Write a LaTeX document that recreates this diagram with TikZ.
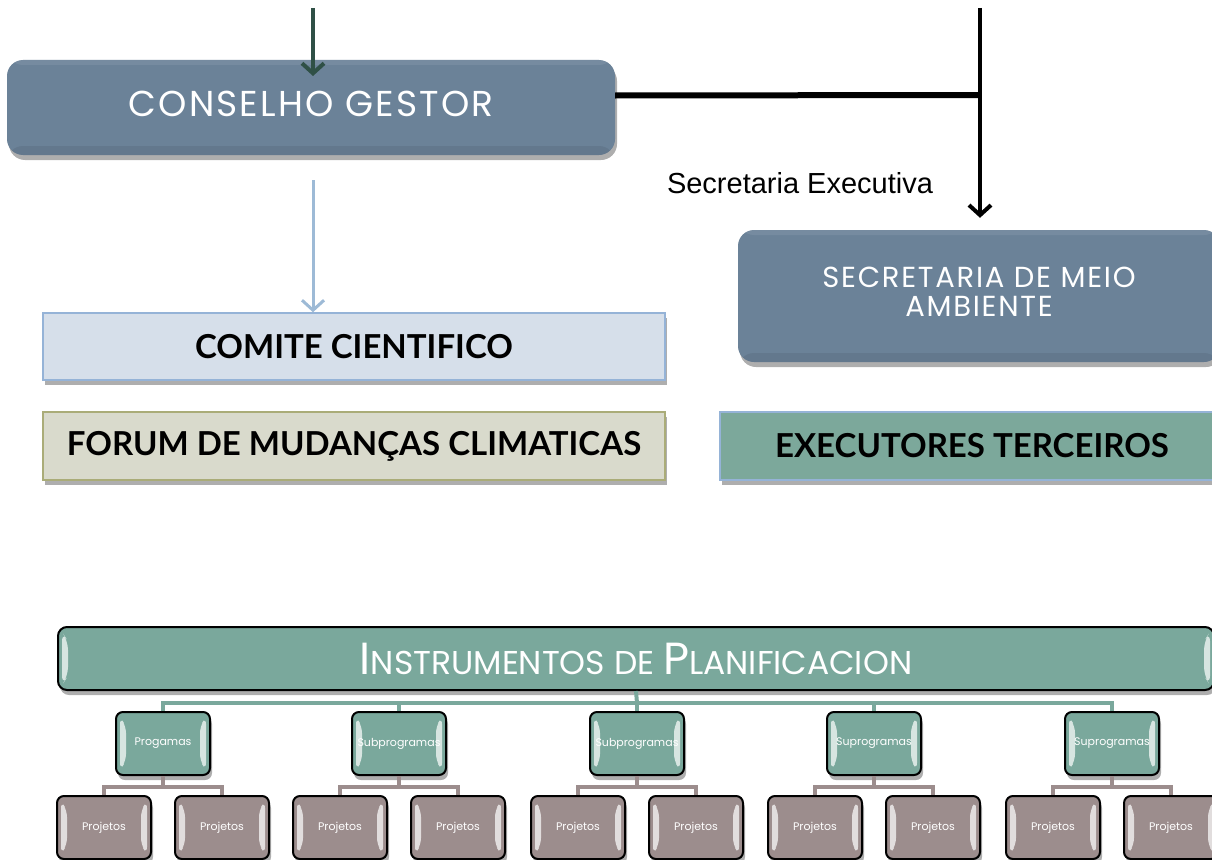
\documentclass[tikz,border=0pt]{standalone}
\usepackage{fontspec}
\setmainfont{Poppins}
\newfontfamily\widef[LetterSpace=6]{Poppins}
\newfontfamily\arialf{Liberation Sans}
\newfontfamily\boldf{Lato}
\usetikzlibrary{shadows,arrows.meta,calc}
\definecolor{slate}{RGB}{107,130,152}
\definecolor{darkgreen}{RGB}{47,80,70}
\definecolor{lightblue}{RGB}{157,186,214}
\definecolor{comitefill}{RGB}{214,223,234}
\definecolor{comiteline}{RGB}{149,179,215}
\definecolor{forumfill}{RGB}{217,218,204}
\definecolor{forumline}{RGB}{170,172,120}
\definecolor{execfill}{RGB}{124,168,155}
\definecolor{tealbox}{RGB}{122,168,156}
\definecolor{mauve}{RGB}{156,141,141}
\tikzset{
  shad/.style={drop shadow={shadow xshift=2pt, shadow yshift=-5pt, opacity=0.45, fill=black!70}},
  slatebox/.style={shad, fill=slate, rounded corners=16pt, text=white, align=center, inner sep=0pt},
  flatbox/.style={shad, draw, line width=1.5pt, inner sep=0pt, font=\boldf\bfseries\fontsize{33}{36}\selectfont},
  bevel/.style={path picture={
     \fill[white, opacity=0.7]
       ($(path picture bounding box.north west)+(4,5)$) --
       ($(path picture bounding box.north west)+(10,14)$) --
       ($(path picture bounding box.south west)+(10,-14)$) --
       ($(path picture bounding box.south west)+(4,-5)$) -- cycle;
     \fill[white, opacity=0.7]
       ($(path picture bounding box.north east)+(-4,5)$) --
       ($(path picture bounding box.north east)+(-10,14)$) --
       ($(path picture bounding box.south east)+(-10,-14)$) --
       ($(path picture bounding box.south east)+(-4,-5)$) -- cycle;
  }},
  slatebevel/.style={path picture={
     \fill[black, opacity=0.07]
       ($(path picture bounding box.south west)+(0,-9)$) rectangle (path picture bounding box.south east);
     \fill[white, opacity=0.08]
       (path picture bounding box.north west) rectangle ($(path picture bounding box.north east)+(0,5)$);
  }},
  hbox/.style={shad, bevel, draw=black, line width=2pt, rounded corners=7pt, inner sep=0pt,
     minimum width=94, minimum height=63, text=white, font=\fontsize{11}{13}\selectfont},
  subbox/.style={hbox, fill=tealbox},
  projbox/.style={hbox, fill=mauve},
  tealline/.style={draw=tealbox, line width=4pt},
  mauveline/.style={draw=mauve, line width=4pt},
}
\begin{document}
\begin{tikzpicture}[x=1pt,y=-1pt]
\useasboundingbox (0,0) rectangle (1212,859);

% upper part
\node[slatebox, slatebevel, minimum width=608, minimum height=95, font=\widef\fontsize{36}{40}\selectfont] (cg) at (311,107.5) {\raisebox{7pt}{CONSELHO GESTOR}};
\node[slatebox, slatebevel, minimum width=482, minimum height=132, font=\widef\fontsize{29}{31}\selectfont] (sma) at (979,296) {\raisebox{10pt}{\begin{tabular}{@{}c@{}}SECRETARIA DE MEIO\\[-2pt]AMBIENTE\end{tabular}}};
\node[flatbox, fill=comitefill, draw=comiteline, minimum width=622, minimum height=67] (cc) at (354,346.5) {COMITE CIENTIFICO};
\node[flatbox, fill=forumfill, draw=forumline, minimum width=622, minimum height=68] (fm) at (354,446) {FORUM DE MUDANÇAS CLIMATICAS};
\node[flatbox, fill=execfill, draw=comiteline, minimum width=504, minimum height=68] (et) at (972,446) {EXECUTORES TERCEIROS};

\node[font=\arialf\fontsize{29}{33}\selectfont] (se) at (800,183) {Secretaria Executiva};

\coordinate (topA) at (313,8);
\coordinate (cgin) at (313,76);
\draw[darkgreen, line width=4pt, -{Straight Barb[length=10pt,width=22pt]}] (topA) -- (cgin);

\coordinate (lbs) at (313,180);
\draw[lightblue, line width=3pt, -{Straight Barb[length=10pt,width=22pt]}] (lbs) -- (cc.north -| lbs);

\coordinate (jn) at (980,95);
\coordinate (topB) at (980,8);
\draw[black, line width=6pt] ($(cg.east)+(0,-12)$) -- (jn);
\draw[black, line width=4pt, -{Straight Barb[length=10pt,width=22pt]}, shorten >=12pt] (topB) -- (sma.north -| topB);

% hierarchy
\node[shad, bevel, draw=black, line width=2pt, rounded corners=9pt, fill=tealbox, minimum width=1156, minimum height=63, inner sep=0pt, text=white] (ip) at (636,658.5)
  {\fontsize{45}{48}\selectfont I\fontsize{33}{36}\selectfont NSTRUMENTOS DE \fontsize{45}{48}\selectfont P\fontsize{33}{36}\selectfont LANIFICACION};

\coordinate (hb) at (637,703);
\node[subbox] (s1) at (163,743.5) {Progamas};
\node[subbox] (s2) at (399,743.5) {Subprogramas};
\node[subbox] (s3) at (637,743.5) {Subprogramas};
\node[subbox] (s4) at (874,743.5) {Suprogramas};
\node[subbox] (s5) at (1112,743.5) {Suprogramas};

\foreach \i/\x in {1/163,2/399,3/637,4/874,5/1112}{
  \node[projbox] (p\i a) at ({\x-59},827.5) {Projetos};
  \node[projbox] (p\i b) at ({\x+59},827.5) {Projetos};
}

\draw[tealline] (ip.south) -- (hb);
\foreach \i in {1,...,5}{
  \draw[tealline] (s\i.north) |- (hb);
  \draw[mauveline] (s\i.south) -- ++(0,11) -| (p\i a.north);
  \draw[mauveline] (s\i.south) -- ++(0,11) -| (p\i b.north);
}
\end{tikzpicture}
\end{document}
